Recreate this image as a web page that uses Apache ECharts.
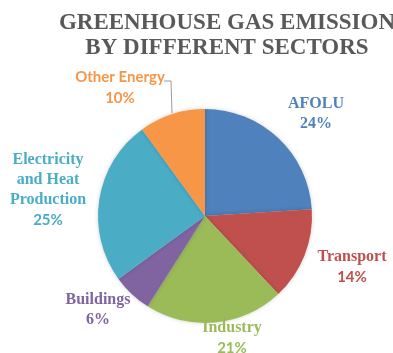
<!DOCTYPE html>
<html>
<head>
<meta charset="utf-8">
<script src="https://cdn.jsdelivr.net/npm/echarts@6/dist/echarts.min.js"></script>
<style>
  html, body { margin: 0; padding: 0; background: #ffffff; }
  #chart { width: 393px; height: 353px; }
</style>
</head>
<body>
<div id="chart"></div>
<script>
// Sectors, clockwise from twelve o'clock
const sectors = ['AFOLU', 'Transport', 'Industry', 'Buildings', 'Electricity\nand Heat\nProduction', 'Other Energy'];
const shares = [24, 14, 21, 6, 25, 10];

const palette = ['#4f81bd', '#c0504d', '#9bbb59', '#8064a2', '#4bacc6', '#f79646'];
// percentage line drawn in a serif face for these sectors, sans for the rest
const serifPct = [true, false, false, true, false, false];
// label block centres
const labelSpots = [[316, 114], [352, 267], [232, 338], [98, 310], [48, 190], [120, 88]];

const chart = echarts.init(document.getElementById('chart'));

const data = sectors.map((name, i) => {
  const c = palette[i];
  const sans = i === 5;
  return {
    name: name,
    value: shares[i],
    itemStyle: { color: c },
    label: {
      formatter: '{n|{b}}\n{p|{d}%}',
      rich: {
        n: {
          color: c, fontSize: sans ? 15 : 16, lineHeight: 20, fontWeight: 'bold',
          fontFamily: sans ? 'Lato' : 'Liberation Serif', align: 'center'
        },
        p: {
          color: c, fontSize: serifPct[i] ? 16 : 15, lineHeight: 21, fontWeight: 'bold',
          fontFamily: serifPct[i] ? 'Liberation Serif' : 'Lato', align: 'center'
        }
      }
    },
    labelLine: { show: i === 5, lineStyle: { color: '#9a9a9a', width: 1 } }
  };
});

chart.setOption({
  animation: false,
  title: {
    text: 'GREENHOUSE GAS EMISSION\nBY DIFFERENT SECTORS',
    left: 222,
    top: 6,
    textAlign: 'center',
    textStyle: {
      fontFamily: 'Liberation Serif',
      fontWeight: 'bold',
      fontSize: 23,
      lineHeight: 25,
      color: '#595959'
    }
  },
  series: [{
    type: 'pie',
    center: [205, 216],
    radius: 107,
    startAngle: 90,
    clockwise: true,
    avoidLabelOverlap: false,
    itemStyle: {
      borderWidth: 0,
      shadowBlur: 4,
      shadowColor: 'rgba(0,0,0,0.18)'
    },
    label: { show: true, position: 'outside' },
    labelLine: { length: 8, length2: 8 },
    emphasis: { disabled: true },
    labelLayout: function (params) {
      const i = params.dataIndex;
      const s = labelSpots[i];
      const out = { x: s[0], y: s[1], align: 'center', verticalAlign: 'middle' };
      if (i === 5) {
        out.labelLinePoints = [[164, 81], [171, 81], [172, 113]];
      }
      return out;
    },
    data: data
  }]
});
</script>
</body>
</html>
